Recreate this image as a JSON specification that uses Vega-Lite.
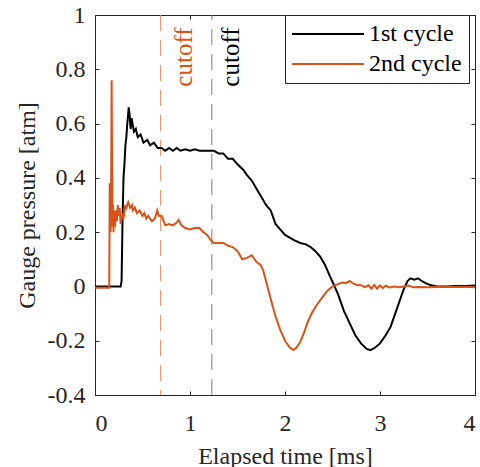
{
  "$schema": "https://vega.github.io/schema/vega-lite/v6.json",
  "width": 380,
  "height": 380,
  "autosize": {"type": "none"},
  "padding": {"left": 95, "top": 15, "right": 5, "bottom": 72},
  "background": "white",
  "config": {
    "font": "Liberation Serif",
    "view": {"stroke": "#262626", "strokeWidth": 1},
    "axis": {
      "grid": false,
      "domainColor": "#262626",
      "tickColor": "#262626",
      "labelColor": "#262626",
      "titleColor": "#262626",
      "labelFont": "Liberation Serif",
      "titleFont": "Liberation Serif",
      "labelFontSize": 24,
      "titleFontSize": 24,
      "titleFontWeight": "normal",
      "tickSize": -4
    },
    "legend": {
      "labelFont": "Liberation Serif",
      "labelFontSize": 24,
      "labelColor": "#000000"
    }
  },
  "datasets": {
    "cutoffs": [
      {"cycle": "2nd cycle", "t": 0.69, "label": "cutoff"},
      {"cycle": "1st cycle", "t": 1.23, "label": "cutoff"}
    ],
    "pressure": [
      {"cycle": "1st cycle", "t": 0, "p": 0},
      {"cycle": "1st cycle", "t": 0.27, "p": 0},
      {"cycle": "1st cycle", "t": 0.28, "p": 0.02},
      {"cycle": "1st cycle", "t": 0.29, "p": 0.25},
      {"cycle": "1st cycle", "t": 0.3, "p": 0.4},
      {"cycle": "1st cycle", "t": 0.31, "p": 0.45},
      {"cycle": "1st cycle", "t": 0.32, "p": 0.52},
      {"cycle": "1st cycle", "t": 0.33, "p": 0.55},
      {"cycle": "1st cycle", "t": 0.34, "p": 0.6},
      {"cycle": "1st cycle", "t": 0.355, "p": 0.66},
      {"cycle": "1st cycle", "t": 0.365, "p": 0.63},
      {"cycle": "1st cycle", "t": 0.375, "p": 0.58},
      {"cycle": "1st cycle", "t": 0.385, "p": 0.62},
      {"cycle": "1st cycle", "t": 0.395, "p": 0.6},
      {"cycle": "1st cycle", "t": 0.41, "p": 0.57},
      {"cycle": "1st cycle", "t": 0.43, "p": 0.58},
      {"cycle": "1st cycle", "t": 0.45, "p": 0.55},
      {"cycle": "1st cycle", "t": 0.48, "p": 0.56},
      {"cycle": "1st cycle", "t": 0.51, "p": 0.53},
      {"cycle": "1st cycle", "t": 0.55, "p": 0.54},
      {"cycle": "1st cycle", "t": 0.58, "p": 0.52},
      {"cycle": "1st cycle", "t": 0.62, "p": 0.53},
      {"cycle": "1st cycle", "t": 0.66, "p": 0.51},
      {"cycle": "1st cycle", "t": 0.7, "p": 0.51},
      {"cycle": "1st cycle", "t": 0.74, "p": 0.5},
      {"cycle": "1st cycle", "t": 0.78, "p": 0.51},
      {"cycle": "1st cycle", "t": 0.82, "p": 0.5},
      {"cycle": "1st cycle", "t": 0.86, "p": 0.51},
      {"cycle": "1st cycle", "t": 0.9, "p": 0.5},
      {"cycle": "1st cycle", "t": 0.95, "p": 0.505},
      {"cycle": "1st cycle", "t": 1.0, "p": 0.5},
      {"cycle": "1st cycle", "t": 1.05, "p": 0.505},
      {"cycle": "1st cycle", "t": 1.1, "p": 0.5},
      {"cycle": "1st cycle", "t": 1.15, "p": 0.5},
      {"cycle": "1st cycle", "t": 1.2, "p": 0.5},
      {"cycle": "1st cycle", "t": 1.25, "p": 0.5},
      {"cycle": "1st cycle", "t": 1.3, "p": 0.49},
      {"cycle": "1st cycle", "t": 1.35, "p": 0.49},
      {"cycle": "1st cycle", "t": 1.4, "p": 0.47},
      {"cycle": "1st cycle", "t": 1.45, "p": 0.47},
      {"cycle": "1st cycle", "t": 1.5, "p": 0.45},
      {"cycle": "1st cycle", "t": 1.56, "p": 0.43},
      {"cycle": "1st cycle", "t": 1.6, "p": 0.41},
      {"cycle": "1st cycle", "t": 1.65, "p": 0.39},
      {"cycle": "1st cycle", "t": 1.7, "p": 0.36},
      {"cycle": "1st cycle", "t": 1.75, "p": 0.33},
      {"cycle": "1st cycle", "t": 1.8, "p": 0.3},
      {"cycle": "1st cycle", "t": 1.85, "p": 0.28},
      {"cycle": "1st cycle", "t": 1.9, "p": 0.23},
      {"cycle": "1st cycle", "t": 1.95, "p": 0.21},
      {"cycle": "1st cycle", "t": 2.0, "p": 0.19},
      {"cycle": "1st cycle", "t": 2.05, "p": 0.18},
      {"cycle": "1st cycle", "t": 2.1, "p": 0.17},
      {"cycle": "1st cycle", "t": 2.16, "p": 0.16},
      {"cycle": "1st cycle", "t": 2.22, "p": 0.155},
      {"cycle": "1st cycle", "t": 2.27, "p": 0.145},
      {"cycle": "1st cycle", "t": 2.32, "p": 0.13},
      {"cycle": "1st cycle", "t": 2.37, "p": 0.11},
      {"cycle": "1st cycle", "t": 2.42, "p": 0.08},
      {"cycle": "1st cycle", "t": 2.47, "p": 0.04},
      {"cycle": "1st cycle", "t": 2.51, "p": 0.01},
      {"cycle": "1st cycle", "t": 2.56, "p": -0.03},
      {"cycle": "1st cycle", "t": 2.62, "p": -0.09},
      {"cycle": "1st cycle", "t": 2.68, "p": -0.135},
      {"cycle": "1st cycle", "t": 2.74, "p": -0.18},
      {"cycle": "1st cycle", "t": 2.8, "p": -0.21},
      {"cycle": "1st cycle", "t": 2.86, "p": -0.23},
      {"cycle": "1st cycle", "t": 2.9, "p": -0.235},
      {"cycle": "1st cycle", "t": 2.95, "p": -0.225},
      {"cycle": "1st cycle", "t": 3.0, "p": -0.21},
      {"cycle": "1st cycle", "t": 3.06, "p": -0.18},
      {"cycle": "1st cycle", "t": 3.11, "p": -0.15},
      {"cycle": "1st cycle", "t": 3.16, "p": -0.1},
      {"cycle": "1st cycle", "t": 3.21, "p": -0.05},
      {"cycle": "1st cycle", "t": 3.25, "p": -0.01},
      {"cycle": "1st cycle", "t": 3.29, "p": 0.02},
      {"cycle": "1st cycle", "t": 3.32, "p": 0.03},
      {"cycle": "1st cycle", "t": 3.36, "p": 0.025},
      {"cycle": "1st cycle", "t": 3.4, "p": 0.03},
      {"cycle": "1st cycle", "t": 3.44, "p": 0.02},
      {"cycle": "1st cycle", "t": 3.48, "p": 0.012},
      {"cycle": "1st cycle", "t": 3.53, "p": 0.005},
      {"cycle": "1st cycle", "t": 3.6, "p": 0.0},
      {"cycle": "1st cycle", "t": 3.7, "p": 0.0},
      {"cycle": "1st cycle", "t": 3.8, "p": 0.002},
      {"cycle": "1st cycle", "t": 3.9, "p": 0.002},
      {"cycle": "1st cycle", "t": 4.0, "p": 0.003},
      {"cycle": "2nd cycle", "t": 0, "p": -0.005},
      {"cycle": "2nd cycle", "t": 0.15, "p": -0.005},
      {"cycle": "2nd cycle", "t": 0.155, "p": 0.38},
      {"cycle": "2nd cycle", "t": 0.16, "p": 0.25},
      {"cycle": "2nd cycle", "t": 0.165, "p": 0.2},
      {"cycle": "2nd cycle", "t": 0.17, "p": 0.35},
      {"cycle": "2nd cycle", "t": 0.175, "p": 0.76},
      {"cycle": "2nd cycle", "t": 0.18, "p": 0.45},
      {"cycle": "2nd cycle", "t": 0.185, "p": 0.22},
      {"cycle": "2nd cycle", "t": 0.19, "p": 0.3},
      {"cycle": "2nd cycle", "t": 0.195, "p": 0.2},
      {"cycle": "2nd cycle", "t": 0.2, "p": 0.28},
      {"cycle": "2nd cycle", "t": 0.21, "p": 0.22},
      {"cycle": "2nd cycle", "t": 0.22, "p": 0.28},
      {"cycle": "2nd cycle", "t": 0.23, "p": 0.24},
      {"cycle": "2nd cycle", "t": 0.24, "p": 0.3},
      {"cycle": "2nd cycle", "t": 0.25, "p": 0.26},
      {"cycle": "2nd cycle", "t": 0.26, "p": 0.29},
      {"cycle": "2nd cycle", "t": 0.27, "p": 0.23},
      {"cycle": "2nd cycle", "t": 0.28, "p": 0.25},
      {"cycle": "2nd cycle", "t": 0.29, "p": 0.27},
      {"cycle": "2nd cycle", "t": 0.3, "p": 0.25},
      {"cycle": "2nd cycle", "t": 0.32, "p": 0.3},
      {"cycle": "2nd cycle", "t": 0.33, "p": 0.29},
      {"cycle": "2nd cycle", "t": 0.35, "p": 0.31},
      {"cycle": "2nd cycle", "t": 0.37, "p": 0.29},
      {"cycle": "2nd cycle", "t": 0.39, "p": 0.3},
      {"cycle": "2nd cycle", "t": 0.4, "p": 0.28},
      {"cycle": "2nd cycle", "t": 0.42, "p": 0.29},
      {"cycle": "2nd cycle", "t": 0.44, "p": 0.27},
      {"cycle": "2nd cycle", "t": 0.47, "p": 0.28},
      {"cycle": "2nd cycle", "t": 0.5, "p": 0.26},
      {"cycle": "2nd cycle", "t": 0.52, "p": 0.27},
      {"cycle": "2nd cycle", "t": 0.54, "p": 0.25},
      {"cycle": "2nd cycle", "t": 0.56, "p": 0.26},
      {"cycle": "2nd cycle", "t": 0.6, "p": 0.24},
      {"cycle": "2nd cycle", "t": 0.63, "p": 0.25},
      {"cycle": "2nd cycle", "t": 0.655, "p": 0.28},
      {"cycle": "2nd cycle", "t": 0.67, "p": 0.26},
      {"cycle": "2nd cycle", "t": 0.7, "p": 0.26},
      {"cycle": "2nd cycle", "t": 0.74, "p": 0.225},
      {"cycle": "2nd cycle", "t": 0.78, "p": 0.23},
      {"cycle": "2nd cycle", "t": 0.82, "p": 0.225},
      {"cycle": "2nd cycle", "t": 0.86, "p": 0.235},
      {"cycle": "2nd cycle", "t": 0.88, "p": 0.245},
      {"cycle": "2nd cycle", "t": 0.91, "p": 0.225},
      {"cycle": "2nd cycle", "t": 0.95, "p": 0.215},
      {"cycle": "2nd cycle", "t": 1.0, "p": 0.21},
      {"cycle": "2nd cycle", "t": 1.05, "p": 0.215},
      {"cycle": "2nd cycle", "t": 1.1, "p": 0.215},
      {"cycle": "2nd cycle", "t": 1.14, "p": 0.2},
      {"cycle": "2nd cycle", "t": 1.18, "p": 0.19},
      {"cycle": "2nd cycle", "t": 1.22, "p": 0.17},
      {"cycle": "2nd cycle", "t": 1.25, "p": 0.16},
      {"cycle": "2nd cycle", "t": 1.3, "p": 0.16},
      {"cycle": "2nd cycle", "t": 1.35, "p": 0.16},
      {"cycle": "2nd cycle", "t": 1.4, "p": 0.15},
      {"cycle": "2nd cycle", "t": 1.45, "p": 0.145},
      {"cycle": "2nd cycle", "t": 1.5, "p": 0.13},
      {"cycle": "2nd cycle", "t": 1.55, "p": 0.1},
      {"cycle": "2nd cycle", "t": 1.6, "p": 0.105},
      {"cycle": "2nd cycle", "t": 1.65, "p": 0.115},
      {"cycle": "2nd cycle", "t": 1.7, "p": 0.09},
      {"cycle": "2nd cycle", "t": 1.74, "p": 0.08},
      {"cycle": "2nd cycle", "t": 1.77, "p": 0.06},
      {"cycle": "2nd cycle", "t": 1.8, "p": 0.02},
      {"cycle": "2nd cycle", "t": 1.83, "p": -0.02},
      {"cycle": "2nd cycle", "t": 1.86, "p": -0.06},
      {"cycle": "2nd cycle", "t": 1.9, "p": -0.11},
      {"cycle": "2nd cycle", "t": 1.95, "p": -0.16},
      {"cycle": "2nd cycle", "t": 2.0, "p": -0.2},
      {"cycle": "2nd cycle", "t": 2.05, "p": -0.225},
      {"cycle": "2nd cycle", "t": 2.09, "p": -0.234},
      {"cycle": "2nd cycle", "t": 2.12, "p": -0.225},
      {"cycle": "2nd cycle", "t": 2.16, "p": -0.205},
      {"cycle": "2nd cycle", "t": 2.2, "p": -0.17},
      {"cycle": "2nd cycle", "t": 2.24, "p": -0.13},
      {"cycle": "2nd cycle", "t": 2.28, "p": -0.1},
      {"cycle": "2nd cycle", "t": 2.33, "p": -0.07},
      {"cycle": "2nd cycle", "t": 2.4, "p": -0.037},
      {"cycle": "2nd cycle", "t": 2.45, "p": -0.015},
      {"cycle": "2nd cycle", "t": 2.5, "p": 0.0},
      {"cycle": "2nd cycle", "t": 2.54, "p": 0.006},
      {"cycle": "2nd cycle", "t": 2.58, "p": 0.012},
      {"cycle": "2nd cycle", "t": 2.61, "p": 0.014},
      {"cycle": "2nd cycle", "t": 2.64, "p": 0.012},
      {"cycle": "2nd cycle", "t": 2.68, "p": 0.02},
      {"cycle": "2nd cycle", "t": 2.72, "p": 0.01},
      {"cycle": "2nd cycle", "t": 2.76, "p": 0.005},
      {"cycle": "2nd cycle", "t": 2.8, "p": 0.004},
      {"cycle": "2nd cycle", "t": 2.84, "p": -0.003},
      {"cycle": "2nd cycle", "t": 2.88, "p": 0.004},
      {"cycle": "2nd cycle", "t": 2.91, "p": -0.008},
      {"cycle": "2nd cycle", "t": 2.94, "p": 0.005},
      {"cycle": "2nd cycle", "t": 2.97, "p": -0.008},
      {"cycle": "2nd cycle", "t": 3.0, "p": 0.004},
      {"cycle": "2nd cycle", "t": 3.03, "p": -0.006},
      {"cycle": "2nd cycle", "t": 3.06, "p": 0.003},
      {"cycle": "2nd cycle", "t": 3.1, "p": -0.004},
      {"cycle": "2nd cycle", "t": 3.15, "p": 0.0},
      {"cycle": "2nd cycle", "t": 3.2, "p": -0.003},
      {"cycle": "2nd cycle", "t": 3.25, "p": 0.0},
      {"cycle": "2nd cycle", "t": 3.3, "p": 0.003},
      {"cycle": "2nd cycle", "t": 3.35, "p": -0.003},
      {"cycle": "2nd cycle", "t": 3.4, "p": -0.002},
      {"cycle": "2nd cycle", "t": 3.5, "p": -0.003},
      {"cycle": "2nd cycle", "t": 3.6, "p": -0.002},
      {"cycle": "2nd cycle", "t": 3.7, "p": -0.002},
      {"cycle": "2nd cycle", "t": 3.8, "p": -0.002},
      {"cycle": "2nd cycle", "t": 3.9, "p": -0.001},
      {"cycle": "2nd cycle", "t": 4.0, "p": -0.003}
    ]
  },
  "resolve": {"axis": {"x": "independent", "y": "independent"}},
  "layer": [
    {
      "data": {"name": "cutoffs"},
      "transform": [{"filter": "datum.cycle == '2nd cycle'"}],
      "mark": {"type": "rule", "color": "#F0906A", "strokeWidth": 1, "strokeDash": [16, 9]},
      "encoding": {
        "x": {"field": "t", "type": "quantitative", "scale": {"domain": [0, 4]},
              "axis": {"orient": "top", "labels": false, "title": null, "values": [0, 1, 2, 3, 4], "domain": false}}
      }
    },
    {
      "data": {"name": "cutoffs"},
      "transform": [{"filter": "datum.cycle == '1st cycle'"}],
      "mark": {"type": "rule", "color": "#7F7F7F", "strokeWidth": 1, "strokeDash": [16, 9]},
      "encoding": {
        "x": {"field": "t", "type": "quantitative", "axis": null},
        "y": {"datum": -0.4, "type": "quantitative", "scale": {"domain": [-0.4, 1]},
              "axis": {"orient": "right", "labels": false, "title": null, "values": [-0.4, -0.2, 0, 0.2, 0.4, 0.6, 0.8, 1], "domain": false}},
        "y2": {"datum": 1}
      }
    },
    {
      "data": {"name": "pressure"},
      "mark": {"type": "line", "strokeWidth": 2},
      "encoding": {
        "x": {"field": "t", "type": "quantitative", "scale": {"domain": [0, 4], "nice": false},
              "axis": {"title": "Elapsed time [ms]", "values": [0, 1, 2, 3, 4], "labelPadding": 20, "titlePadding": 9}},
        "y": {"field": "p", "type": "quantitative", "scale": {"domain": [-0.4, 1], "nice": false},
              "axis": {"title": "Gauge pressure [atm]", "values": [-0.4, -0.2, 0, 0.2, 0.4, 0.6, 0.8, 1],
                       "labelExpr": "'' + datum.value", "labelPadding": 14, "titlePadding": 8}},
        "color": {"field": "cycle", "type": "nominal",
                  "scale": {"domain": ["1st cycle", "2nd cycle"], "range": ["#000000", "#D95319"]},
                  "legend": {"title": null, "orient": "none", "legendX": 190, "legendY": 0,
                             "symbolType": "M-4,0H4", "symbolSize": 324, "symbolStrokeWidth": 2,
                             "symbolOffset": 24, "labelOffset": 29,
                             "rowPadding": 6, "padding": 7, "strokeColor": "#262626", "fillColor": "white"}}
      }
    },
    {
      "data": {"name": "cutoffs"},
      "transform": [{"filter": "datum.cycle == '2nd cycle'"}],
      "mark": {"type": "text", "angle": 270, "align": "left", "baseline": "alphabetic", "dy": 31, "fontSize": 25, "color": "#D95319", "font": "Liberation Serif"},
      "encoding": {
        "x": {"field": "t", "type": "quantitative", "axis": null},
        "y": {"datum": 0.736, "type": "quantitative", "axis": null},
        "text": {"field": "label"}
      }
    },
    {
      "data": {"name": "cutoffs"},
      "transform": [{"filter": "datum.cycle == '1st cycle'"}],
      "mark": {"type": "text", "angle": 270, "align": "left", "baseline": "alphabetic", "dy": 27, "fontSize": 25, "color": "#000000", "font": "Liberation Serif"},
      "encoding": {
        "x": {"field": "t", "type": "quantitative", "axis": null},
        "y": {"datum": 0.736, "type": "quantitative", "axis": null},
        "text": {"field": "label"}
      }
    }
  ]
}
